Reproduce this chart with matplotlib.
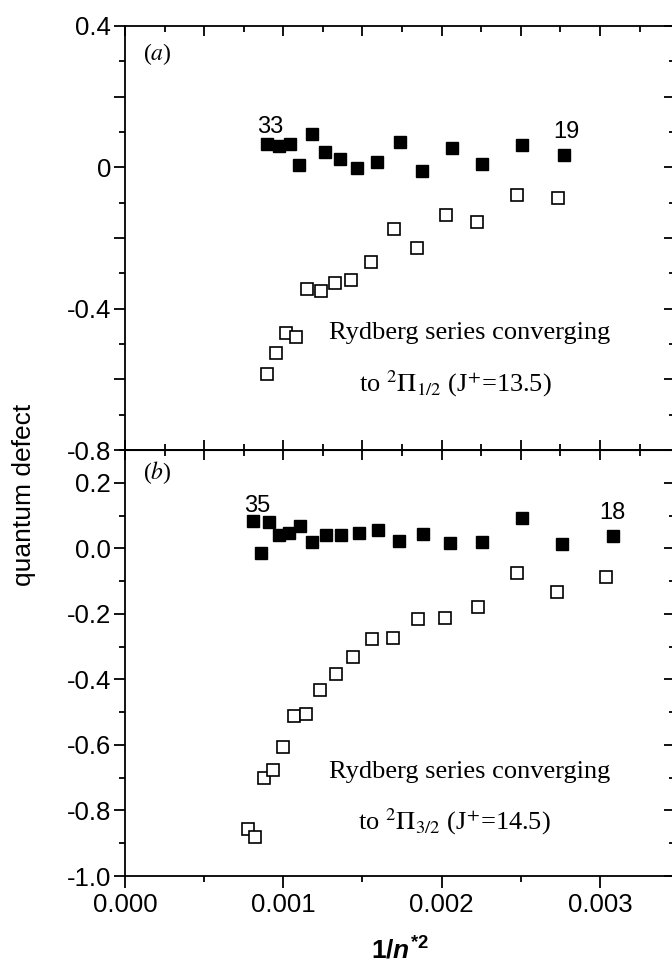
import matplotlib.pyplot as plt
from matplotlib.ticker import MultipleLocator, FuncFormatter

plt.rcParams['font.family'] = ['Liberation Sans', 'DejaVu Sans']
plt.rcParams['axes.unicode_minus'] = False
plt.rcParams['mathtext.fontset'] = 'custom'
plt.rcParams['mathtext.rm'] = 'Liberation Sans:bold'
plt.rcParams['mathtext.bf'] = 'Liberation Sans:bold'
plt.rcParams['mathtext.it'] = 'Liberation Sans:bold:italic'

# (a) serie que converge a 2Pi 1/2
xa_lleno = [0.000895, 0.00097, 0.00104, 0.0011, 0.00118, 0.001265, 0.00136, 0.001468,
            0.00159, 0.001735, 0.001876, 0.002065, 0.002255, 0.002507, 0.00277]
ya_lleno = [0.066, 0.060, 0.067, 0.008, 0.093, 0.042, 0.023, -0.003,
            0.014, 0.071, -0.010, 0.055, 0.009, 0.063, 0.036]
xa_vacio = [0.000894, 0.000954, 0.001016, 0.001079, 0.00115, 0.001235, 0.001328, 0.00143,
            0.001554, 0.001698, 0.001843, 0.00203, 0.002223, 0.002473, 0.002735]
ya_vacio = [-0.585, -0.526, -0.469, -0.481, -0.344, -0.350, -0.328, -0.320,
            -0.267, -0.175, -0.229, -0.136, -0.155, -0.078, -0.086]

# (b) serie que converge a 2Pi 3/2
xb_lleno = [0.000807, 0.000858, 0.000912, 0.000972, 0.001037, 0.001107, 0.00118, 0.00127, 0.001362,
            0.001476, 0.001595, 0.001728, 0.001884, 0.002055, 0.002255, 0.002505, 0.002759, 0.003081]
yb_lleno = [0.083, -0.015, 0.080, 0.040, 0.046, 0.068, 0.019, 0.042, 0.042,
            0.046, 0.056, 0.022, 0.043, 0.015, 0.019, 0.094, 0.012, 0.038]
xb_vacio = [0.000774, 0.000824, 0.000877, 0.000937, 0.001, 0.00107, 0.001144, 0.001233, 0.001332,
            0.00144, 0.001561, 0.001694, 0.001849, 0.002022, 0.002227, 0.002473, 0.002727, 0.00304]
yb_vacio = [-0.858, -0.881, -0.702, -0.675, -0.605, -0.512, -0.507, -0.433, -0.383,
            -0.332, -0.278, -0.274, -0.217, -0.213, -0.178, -0.074, -0.133, -0.087]

fig = plt.figure(figsize=(6.72, 9.65), dpi=100)
izq = 125 / 672
ancho = 550 / 672
ax_a = fig.add_axes([izq, 1 - 450 / 965, ancho, 424 / 965])
ax_b = fig.add_axes([izq, 1 - 876 / 965, ancho, 426 / 965])

xmax = 0.003474
serif = 'Liberation Serif'
lw = 1.3

def marcar(ax):
    for s in ax.spines.values():
        s.set_linewidth(lw)
    ax.set_xlim(0, xmax)
    ax.yaxis.set_major_locator(MultipleLocator(0.2))
    ax.yaxis.set_minor_locator(MultipleLocator(0.1))
    ax.tick_params(axis='y', which='major', direction='out', length=8, width=lw, labelsize=18.5, pad=2)
    ax.tick_params(axis='y', which='minor', direction='out', length=4.3, width=lw)
    der = ax.secondary_yaxis('right')
    der.yaxis.set_major_locator(MultipleLocator(0.2))
    der.yaxis.set_minor_locator(MultipleLocator(0.1))
    der.tick_params(axis='y', which='major', direction='in', length=8, width=lw, labelright=False)
    der.tick_params(axis='y', which='minor', direction='in', length=4.3, width=lw)

# panel (a)
ax_a.plot(xa_lleno, ya_lleno, 's', color='black', markersize=8.5, linestyle='none')
ax_a.plot(xa_vacio, ya_vacio, 's', markerfacecolor='white', markeredgecolor='black',
          markeredgewidth=1.2, markersize=8.5, linestyle='none')
marcar(ax_a)
ax_a.set_ylim(-0.8, 0.4)
ax_a.yaxis.set_major_formatter(FuncFormatter(
    lambda v, p: ('0' if abs(v) < 1e-9 else '%.1f' % v) if abs(round(v / 0.4) * 0.4 - v) < 1e-6 else ''))
ax_a.xaxis.set_major_locator(MultipleLocator(0.0005))
ax_a.xaxis.set_minor_locator(MultipleLocator(0.00025))
ax_a.tick_params(axis='x', which='major', direction='in', top=True, bottom=True,
                 labelbottom=False, length=7.5, width=lw)
ax_a.tick_params(axis='x', which='minor', direction='in', top=True, bottom=True, length=4, width=lw)

ax_a.text(0.000115, 0.32, '($\\it{a}$)', family=serif, math_fontfamily='stix', fontsize=17,
          ha='left', va='center')
ax_a.text(0.000916, 0.114, '33', fontsize=17, ha='center', va='center')
ax_a.text(0.002789, 0.100, '19', fontsize=17, ha='center', va='center')
ax_a.text(0.002175, -0.47, 'Rydberg series converging', family=serif, fontsize=19,
          ha='center', va='center')
ax_a.text(0.00209, -0.612, 'to $^{2}\\Pi_{1/2}$ (J$^{+}$=13.5)', family=serif,
          math_fontfamily='stix', fontsize=19, ha='center', va='center')

# panel (b)
ax_b.plot(xb_lleno, yb_lleno, 's', color='black', markersize=8.5, linestyle='none')
ax_b.plot(xb_vacio, yb_vacio, 's', markerfacecolor='white', markeredgecolor='black',
          markeredgewidth=1.2, markersize=8.5, linestyle='none')
marcar(ax_b)
ax_b.set_ylim(-1.0, 0.3)
ax_b.yaxis.set_major_formatter(FuncFormatter(lambda v, p: '%.1f' % (0 if abs(v) < 1e-9 else v)))
ax_b.xaxis.set_major_locator(MultipleLocator(0.001))
ax_b.xaxis.set_minor_locator(MultipleLocator(0.0005))
ax_b.xaxis.set_major_formatter(FuncFormatter(lambda v, p: '%.3f' % v))
ax_b.tick_params(axis='x', which='major', direction='out', length=8.5, width=lw, labelsize=18.5, pad=4)
ax_b.tick_params(axis='x', which='minor', direction='out', length=4.3, width=lw)
arriba = ax_b.secondary_xaxis('top')
arriba.xaxis.set_major_locator(MultipleLocator(0.0005))
arriba.xaxis.set_minor_locator(MultipleLocator(0.00025))
arriba.tick_params(axis='x', which='major', direction='in', length=7.5, width=lw, labeltop=False)
arriba.tick_params(axis='x', which='minor', direction='in', length=4, width=lw)

ax_b.text(0.000115, 0.23, '($\\it{b}$)', family=serif, math_fontfamily='stix', fontsize=17,
          ha='left', va='center')
ax_b.text(0.000834, 0.129, '35', fontsize=17, ha='center', va='center')
ax_b.text(0.003081, 0.109, '18', fontsize=17, ha='center', va='center')
ax_b.text(0.002175, -0.684, 'Rydberg series converging', family=serif, fontsize=19,
          ha='center', va='center')
ax_b.text(0.00208, -0.834, 'to $^{2}\\Pi_{3/2}$ (J$^{+}$=14.5)', family=serif,
          math_fontfamily='stix', fontsize=19, ha='center', va='center')

ax_b.set_xlabel('$\\mathrm{1/}n^{\\mathrm{*2}}$', fontsize=19, labelpad=14)
fig.text(24 / 672, 1 - 495 / 965, 'quantum defect', rotation=90, fontsize=19,
         ha='center', va='center')

fig.savefig('out.png', dpi=100)
